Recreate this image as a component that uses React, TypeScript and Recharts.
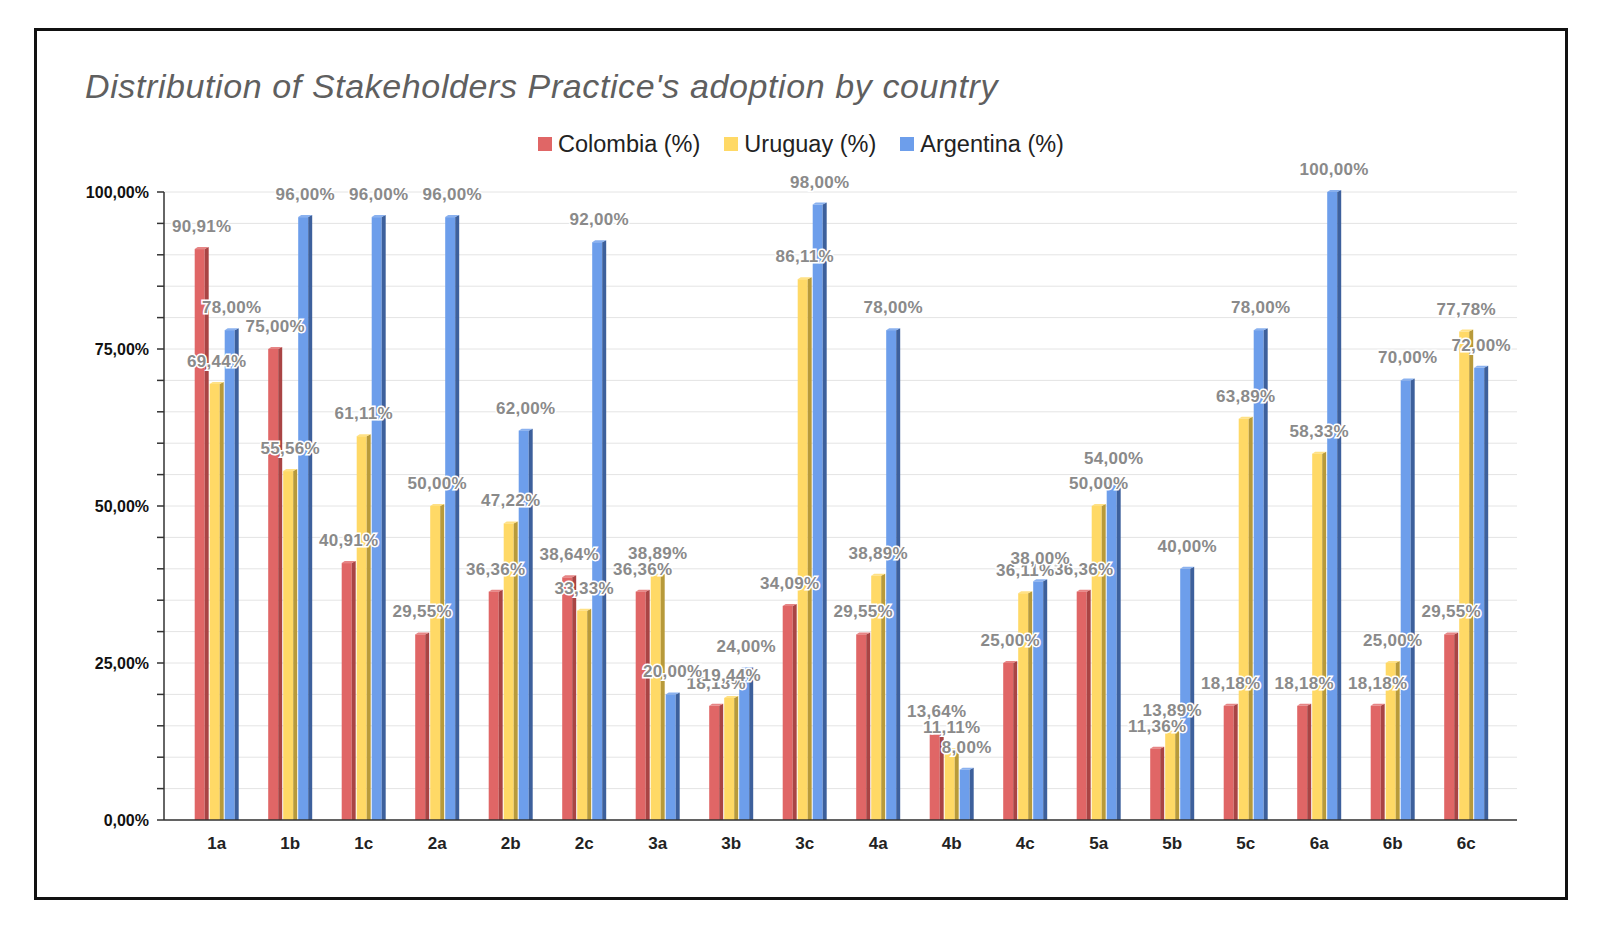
import React from 'react';
import { BarChart, Bar, XAxis, YAxis, CartesianGrid, LabelList } from 'recharts';

const practices = ['1a', '1b', '1c', '2a', '2b', '2c', '3a', '3b', '3c', '4a', '4b', '4c', '5a', '5b', '5c', '6a', '6b', '6c'];
const colombia = [90.91, 75, 40.91, 29.55, 36.36, 38.64, 36.36, 18.18, 34.09, 29.55, 13.64, 25, 36.36, 11.36, 18.18, 18.18, 18.18, 29.55];
const uruguay = [69.44, 55.56, 61.11, 50, 47.22, 33.33, 38.89, 19.44, 86.11, 38.89, 11.11, 36.11, 50, 13.89, 63.89, 58.33, 25, 77.78];
const argentina = [78, 96, 96, 96, 62, 92, 20, 24, 98, 78, 8, 38, 54, 40, 78, 100, 70, 72];
const yTicks = [0, 5, 10, 15, 20, 25, 30, 35, 40, 45, 50, 55, 60, 65, 70, 75, 80, 85, 90, 95, 100];

const series = [
  { key: 'colombia', name: 'Colombia (%)', color: '#e06666', side: '#a94444' },
  { key: 'uruguay', name: 'Uruguay (%)', color: '#ffd966', side: '#b89a3a' },
  { key: 'argentina', name: 'Argentina (%)', color: '#6d9eeb', side: '#3d609c' },
];

const data = practices.map((p, i) => ({
  practice: p,
  colombia: colombia[i],
  uruguay: uruguay[i],
  argentina: argentina[i],
}));

const font = 'Liberation Sans, Arial, sans-serif';
const pct = (v: number) => v.toFixed(2).replace('.', ',') + '%';

function bar3d(color: string, side: string) {
  return (props: any) => {
    const { x, y, width, height } = props;
    if (!height || height <= 0) return null;
    const d = 4;
    return (
      <g>
        <rect x={x} y={y} width={width - d} height={height} fill={color} />
        <polygon points={`${x + width - d},${y} ${x + width},${y - 2} ${x + width},${y + height} ${x + width - d},${y + height}`} fill={side} />
        <polygon points={`${x},${y} ${x + 3},${y - 2} ${x + width},${y - 2} ${x + width - d},${y}`} fill={color} opacity={0.8} />
      </g>
    );
  };
}

function valueLabel(props: any) {
  const { x, y, width, value } = props;
  return (
    <text
      x={x + width / 2}
      y={y - 17}
      textAnchor="middle"
      fontSize={17}
      fontWeight="bold"
      letterSpacing={0.3}
      fill="#8a8a8a"
      stroke="#ffffff"
      strokeWidth={3}
      paintOrder="stroke"
      fontFamily={font}
    >
      {pct(value)}
    </text>
  );
}

export default function App() {
  return (
    <div style={{ position: 'absolute', left: 0, top: 0, width: 1600, height: 926, background: '#fff', fontFamily: font }}>
      <div style={{ position: 'absolute', left: 34, top: 28, width: 1528, height: 866, border: '3px solid #111' }} />
      <div style={{ position: 'absolute', left: 85, top: 69, fontSize: 34, lineHeight: 1, letterSpacing: 0.6, fontStyle: 'italic', color: '#5f5f5f', whiteSpace: 'nowrap' }}>
        Distribution of Stakeholders Practice's adoption by country
      </div>
      <div style={{ position: 'absolute', left: 538, top: 130, height: 28, display: 'flex', alignItems: 'center', gap: 24, fontSize: 23.5, color: '#222', whiteSpace: 'nowrap' }}>
        {series.map((s) => (
          <span key={s.key} style={{ display: 'flex', alignItems: 'center' }}>
            <span style={{ width: 14, height: 14, background: s.color, marginRight: 6, display: 'inline-block' }} />
            {s.name}
          </span>
        ))}
      </div>
      <BarChart
        width={1600}
        height={926}
        data={data}
        margin={{ top: 192, right: 83, bottom: 76, left: 84 }}
        barCategoryGap="20%"
        barGap={1}
        style={{ position: 'absolute', left: 0, top: 0 }}
      >
        <CartesianGrid vertical={false} stroke="#e4e4e4" />
        <XAxis
          dataKey="practice"
          height={30}
          axisLine={{ stroke: '#333', strokeWidth: 1.5 }}
          tickLine={false}
          padding={{ left: 16, right: 14 }}
          tick={{ fontSize: 17, fontWeight: 'bold', fill: '#222' }}
          tickMargin={11}
        />
        <YAxis
          width={80}
          domain={[0, 100]}
          ticks={yTicks}
          interval={0}
          tickFormatter={(v: number) => (v % 25 === 0 ? pct(v) : '')}
          axisLine={{ stroke: '#333', strokeWidth: 1.5 }}
          tickLine={{ stroke: '#333', strokeWidth: 1.5 }}
          tickSize={7}
          tickMargin={8}
          tick={{ fontSize: 16, fontWeight: 'bold', fill: '#111' }}
        />
        {series.map((s) => (
          <Bar key={s.key} dataKey={s.key} name={s.name} fill={s.color} shape={bar3d(s.color, s.side)} isAnimationActive={false}>
            <LabelList dataKey={s.key} content={valueLabel} />
          </Bar>
        ))}
      </BarChart>
    </div>
  );
}
